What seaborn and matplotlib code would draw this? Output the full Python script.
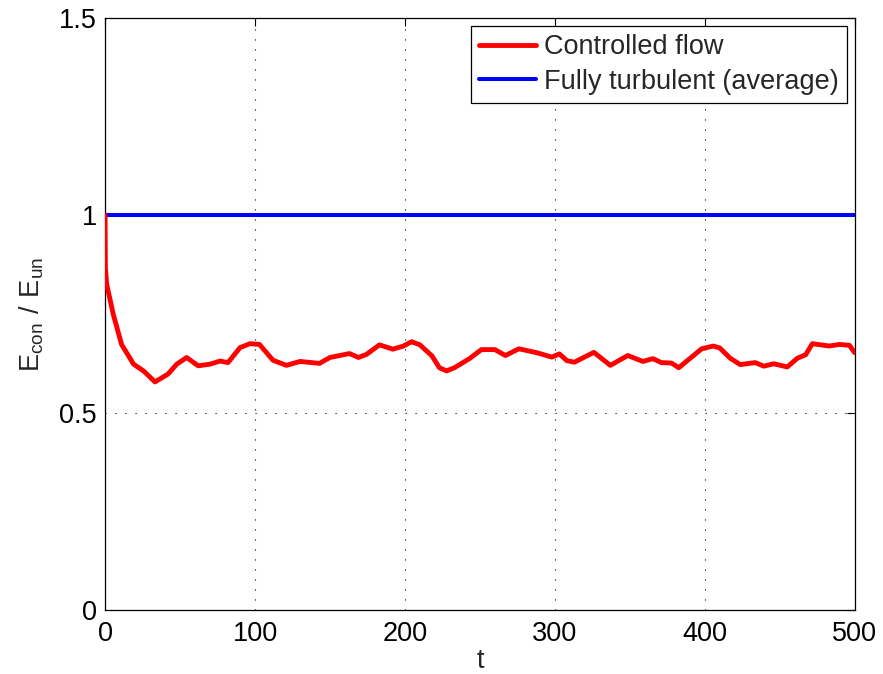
import matplotlib
matplotlib.use("Agg")
import matplotlib.pyplot as plt
import seaborn as sns
import pandas as pd

# Controlled flow
t_con = [0, 0.2, 1.1, 5.5, 11, 19, 25.6, 33.3, 42, 47.8, 54.4, 62, 70, 76.7, 82,
         90, 96.7, 103, 112, 121, 130, 143, 150, 163, 169, 174.4, 183, 192, 199,
         204.4, 210, 218, 223, 227.8, 233, 243, 251, 260, 267, 276, 288, 298, 303,
         308, 313, 326, 337, 348.6, 358.7, 365.4, 371, 377.7, 382.6, 397.9, 405.7,
         410, 417, 423.6, 433.7, 439.3, 446, 455, 461.7, 467.3, 471.7, 483, 489.7,
         496.4, 500]
e_con = [1.0, 0.867, 0.825, 0.749, 0.673, 0.623, 0.606, 0.578, 0.598, 0.623, 0.640,
         0.619, 0.623, 0.631, 0.627, 0.665, 0.675, 0.673, 0.633, 0.620, 0.630, 0.625,
         0.640, 0.650, 0.640, 0.648, 0.672, 0.661, 0.669, 0.680, 0.672, 0.644, 0.614,
         0.606, 0.614, 0.637, 0.660, 0.660, 0.645, 0.662, 0.652, 0.641, 0.649, 0.632,
         0.628, 0.653, 0.620, 0.645, 0.630, 0.637, 0.627, 0.626, 0.614, 0.662, 0.669,
         0.664, 0.638, 0.622, 0.627, 0.618, 0.624, 0.616, 0.638, 0.647, 0.675, 0.669,
         0.673, 0.671, 0.652]

# Fully turbulent average
t_turb = [0, 500]
e_turb = [1.0, 1.0]

x_ticks = [0, 100, 200, 300, 400, 500]
y_ticks = [0, 0.5, 1, 1.5]
y_tick_labels = ["0", "0.5", "1", "1.5"]

sns.set_style("white")
plt.rcParams["font.family"] = ["Liberation Sans", "DejaVu Sans"]
plt.rcParams["mathtext.fontset"] = "custom"
plt.rcParams["mathtext.rm"] = "Liberation Sans"

FS = 19.5

fig = plt.figure(figsize=(8.83, 6.74), dpi=100)
ax = fig.add_axes([0.119, 0.095, 0.849, 0.878])

df_con = pd.DataFrame({"t": t_con, "E": e_con})
df_turb = pd.DataFrame({"t": t_turb, "E": e_turb})

sns.lineplot(data=df_con, x="t", y="E", ax=ax, color="#ff0000", linewidth=3.5,
             label="Controlled flow", estimator=None, sort=False, zorder=3)
sns.lineplot(data=df_turb, x="t", y="E", ax=ax, color="#0000ff", linewidth=2.9,
             label="Fully turbulent (average)", estimator=None, sort=False, zorder=2)

ax.set_xlim(0, 500)
ax.set_ylim(0, 1.5)
ax.set_xticks(x_ticks)
ax.set_xticklabels([str(v) for v in x_ticks])
ax.set_yticks(y_ticks)
ax.set_yticklabels(y_tick_labels)
ax.tick_params(direction="in", length=6, width=0.8, labelsize=FS, top=True, right=True,
               colors="black")
ax.tick_params(axis="x", pad=8)
ax.tick_params(axis="y", pad=6)
ax.grid(True, linestyle=(0, (1, 8)), color="black", linewidth=0.8)
for s in ax.spines.values():
    s.set_visible(True)
    s.set_color("black")
    s.set_linewidth(0.9)

ax.set_xlabel("t", fontsize=FS, labelpad=1)
ax.set_ylabel(r"$\mathregular{E_{con}\ /\ E_{un}}$", fontsize=FS, labelpad=9)

leg = ax.legend(loc="upper right", fontsize=FS, frameon=True, fancybox=False,
                edgecolor="black", framealpha=1, borderpad=0.3, handlelength=2.1,
                handletextpad=0.3, labelspacing=0.3, borderaxespad=0.3)
leg.get_frame().set_linewidth(0.9)

fig.savefig("out.png", dpi=100)
